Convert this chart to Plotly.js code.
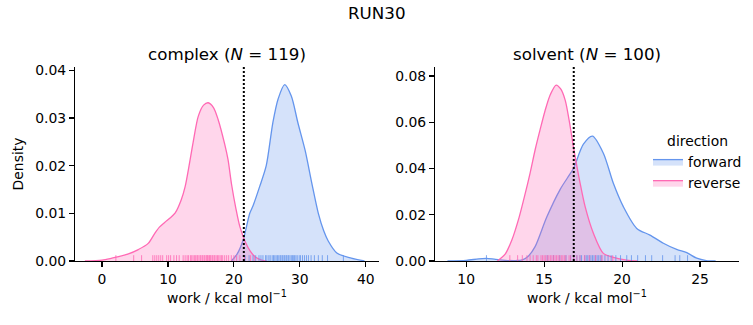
<!DOCTYPE html>
<html>
<head>
<meta charset="utf-8">
<script src="https://cdn.plot.ly/plotly-3.0.1.min.js"></script>
<style>html,body{margin:0;padding:0;background:#fff;}#chart{width:753px;height:325px;}</style>
</head>
<body>
<div id="chart"></div>
<script>
// ---------- data ----------
const directions = ["forward", "reverse"];

// complex: KDE curves
const complexForwardX = [19.6, 20.5, 21.4, 22.4, 22.9, 23.9, 24.9, 25.9, 26.7, 27.7, 28.7, 29.7, 30.8, 31.8, 32.8, 33.6, 34.3, 35.6, 37.8, 39.8];
const complexForwardY = [0, 0.0015, 0.0044, 0.0100, 0.0116, 0.0156, 0.0200, 0.0290, 0.0340, 0.0370, 0.0346, 0.0290, 0.0232, 0.0164, 0.0100, 0.0064, 0.0042, 0.0017, 0.0006, 0];
const complexReverseX = [-2.6, 0, 1.5, 2.5, 4, 5.5, 7.0, 8.0, 8.7, 9.5, 10.3, 11.1, 12.0, 12.6, 13.2, 13.8, 14.6, 15.4, 16.1, 16.9, 17.6, 18.6, 19.1, 19.65, 20.3, 20.9, 21.7, 22.5, 23.2, 24.2, 25];
const complexReverseY = [0, 0.0002, 0.0006, 0.0009, 0.0015, 0.0024, 0.0037, 0.0058, 0.0071, 0.0081, 0.0090, 0.0101, 0.0128, 0.0156, 0.0200, 0.0248, 0.0304, 0.0327, 0.0332, 0.0322, 0.0297, 0.0245, 0.0213, 0.0160, 0.0110, 0.0072, 0.0041, 0.0020, 0.0009, 0.0002, 0];

// solvent: KDE curves
const solventForwardX = [8.8, 10.0, 10.8, 11.3, 11.8, 12.5, 13.2, 13.6, 14.0, 14.42, 15.17, 16.03, 16.5, 16.88, 17.52, 18.1, 18.8, 19.44, 20.08, 20.94, 21.79, 22.65, 23.5, 24.15, 24.79, 25.4, 26.0];
const solventForwardY = [0, 0.0003, 0.0009, 0.0011, 0.0008, 0.0003, 0.0002, 0.0005, 0.0022, 0.0062, 0.0190, 0.0310, 0.0360, 0.0400, 0.0505, 0.0540, 0.0466, 0.0336, 0.0235, 0.0141, 0.0112, 0.0077, 0.0050, 0.0036, 0.0012, 0.0002, 0];
const solventReverseX = [12.0, 12.5, 12.93, 13.4, 13.78, 14.1, 14.42, 14.75, 15.06, 15.4, 15.77, 16.05, 16.35, 16.6, 16.88, 17.31, 17.63, 18.16, 18.8, 19.44, 20.3, 21.0];
const solventReverseY = [0, 0.0030, 0.0091, 0.0190, 0.0290, 0.0380, 0.0480, 0.0570, 0.0650, 0.0720, 0.0761, 0.0745, 0.0696, 0.0610, 0.0494, 0.0336, 0.0235, 0.0120, 0.0033, 0.0016, 0.0004, 0];

// rug samples (work values)
const complexForwardWork = [21.7, 22.3, 22.9, 23.3, 23.8, 24.1, 24.4, 24.8, 25.0, 25.3, 25.5, 25.8, 26.0, 26.2, 26.4, 26.6, 26.8, 27.0, 27.1, 27.3, 27.4, 27.6, 27.7, 27.9, 28.0, 28.2, 28.3, 28.5, 28.7, 28.9, 29.0, 29.2, 29.4, 29.6, 29.9, 30.1, 30.4, 30.7, 31.0, 31.3, 31.7, 32.2, 32.8, 33.4, 34.2, 36.6];
const complexReverseWork = [2.1, 4.8, 6.0, 7.7, 8.0, 8.3, 8.6, 8.9, 9.2, 9.8, 10.1, 10.4, 10.9, 11.3, 11.7, 12.3, 12.6, 12.9, 13.1, 13.4, 13.6, 13.8, 14.0, 14.2, 14.4, 14.5, 14.7, 14.9, 15.0, 15.2, 15.3, 15.5, 15.6, 15.8, 15.9, 16.0, 16.1, 16.3, 16.4, 16.5, 16.7, 16.8, 17.0, 17.1, 17.3, 17.5, 17.7, 17.9, 18.1, 18.3, 18.6, 18.9, 19.2, 19.6, 20.0, 20.4, 20.9, 21.6, 22.5, 23.1];
const solventForwardWork = [11.3, 15.2, 15.6, 16.0, 16.4, 16.7, 16.9, 17.1, 17.3, 17.4, 17.6, 17.7, 17.8, 17.9, 18.0, 18.1, 18.2, 18.3, 18.4, 18.5, 18.6, 18.7, 18.9, 19.1, 19.3, 19.6, 19.9, 20.3, 20.6, 21.0, 21.5, 21.9, 22.6, 23.4, 23.7, 24.2];
const solventReverseWork = [12.8, 13.3, 13.6, 13.9, 14.1, 14.3, 14.5, 14.6, 14.8, 14.9, 15.0, 15.1, 15.2, 15.3, 15.4, 15.5, 15.6, 15.7, 15.8, 15.9, 16.0, 16.1, 16.2, 16.3, 16.4, 16.6, 16.7, 16.9, 17.1, 17.3, 17.6, 17.9, 18.3, 18.7, 19.4];

// dotted reference lines
const complexMarker = 21.5;
const solventMarker = 16.9;

// axis ticks
const complexXTicks = [0, 10, 20, 30, 40];
const complexYTicks = [0, 0.01, 0.02, 0.03, 0.04];
const solventXTicks = [10, 15, 20, 25];
const solventYTicks = [0, 0.02, 0.04, 0.06, 0.08];

// ---------- styles ----------
const FONT = "DejaVu Sans";
const FS = 13.9;
const colors = { forward: "#6495ED", reverse: "#FF69B4" };
const fills = { forward: "rgba(100,149,237,0.27)", reverse: "rgba(255,105,180,0.27)" };
const complexYRange = [0, 0.0407];
const solventYRange = [0, 0.0839];
const rugFrac = 0.03;

function rug(vals, h) {
  const x = [], y = [];
  vals.forEach(v => { x.push(v, v, null); y.push(0, h, null); });
  return { x, y };
}

function kde(x, y, dir, xa, ya, showlegend) {
  return {
    type: "scatter", mode: "lines", x: x, y: y, xaxis: xa, yaxis: ya,
    name: dir, legendgroup: dir, showlegend: showlegend,
    line: { color: colors[dir], width: 1.3, shape: "spline", smoothing: 0.8 },
    fill: "tozeroy", fillcolor: fills[dir], hoverinfo: "skip"
  };
}
function rugTrace(vals, h, dir, xa, ya) {
  const r = rug(vals, h);
  return {
    type: "scatter", mode: "lines", x: r.x, y: r.y, xaxis: xa, yaxis: ya,
    showlegend: false, line: { color: colors[dir], width: 1 }, opacity: 0.8, hoverinfo: "skip"
  };
}

const traces = [
  kde(complexForwardX, complexForwardY, "forward", "x", "y", false),
  kde(complexReverseX, complexReverseY, "reverse", "x", "y", false),
  rugTrace(complexForwardWork, complexYRange[1] * rugFrac, "forward", "x", "y"),
  rugTrace(complexReverseWork, complexYRange[1] * rugFrac, "reverse", "x", "y"),
  kde(solventForwardX, solventForwardY, "forward", "x2", "y2", true),
  kde(solventReverseX, solventReverseY, "reverse", "x2", "y2", true),
  rugTrace(solventForwardWork, solventYRange[1] * rugFrac, "forward", "x2", "y2"),
  rugTrace(solventReverseWork, solventYRange[1] * rugFrac, "reverse", "x2", "y2")
];

const axBase = {
  showgrid: false, zeroline: false, showline: true, linecolor: "black", linewidth: 1.1,
  ticks: "outside", ticklen: 4.9, tickwidth: 1.1, tickcolor: "black",
  tickfont: { family: FONT, size: FS, color: "black" }, automargin: false
};
const xTitle = { text: "work / kcal mol<sup>−1</sup>", font: { family: FONT, size: FS, color: "black" }, standoff: 7 };

const layout = {
  width: 753, height: 325,
  margin: { l: 0, r: 0, t: 0, b: 0 },
  paper_bgcolor: "white", plot_bgcolor: "white",
  font: { family: FONT, size: FS, color: "black" },
  xaxis: Object.assign({}, axBase, { domain: [75 / 753, 379 / 753], range: [-4.1, 42], tickvals: complexXTicks, anchor: "y", title: xTitle }),
  yaxis: Object.assign({}, axBase, { domain: [64 / 325, 258 / 325], range: complexYRange, tickvals: complexYTicks, tickformat: ".2f", anchor: "x",
    title: { text: "Density", font: { family: FONT, size: FS, color: "black" }, standoff: 8 } }),
  xaxis2: Object.assign({}, axBase, { domain: [435 / 753, 739 / 753], range: [8.0, 27.5], tickvals: solventXTicks, anchor: "y2", title: xTitle }),
  yaxis2: Object.assign({}, axBase, { domain: [64 / 325, 258 / 325], range: solventYRange, tickvals: solventYTicks, tickformat: ".2f", anchor: "x2" }),
  shapes: [
    { type: "line", xref: "x", yref: "y domain", x0: complexMarker, x1: complexMarker, y0: 0, y1: 1, line: { color: "black", width: 2, dash: "2px,2px" } },
    { type: "line", xref: "x2", yref: "y2 domain", x0: solventMarker, x1: solventMarker, y0: 0, y1: 1, line: { color: "black", width: 2, dash: "2px,2px" } }
  ],
  annotations: [
    { text: "RUN30", xref: "paper", yref: "paper", x: 0.5, y: 1 - 13 / 325, xanchor: "center", yanchor: "middle", showarrow: false, font: { family: FONT, size: 16.7, color: "black" } },
    { text: "complex (<i>N</i> = 119)", xref: "x domain", yref: "paper", x: 0.5, y: 1 - 54 / 325, xanchor: "center", yanchor: "middle", showarrow: false, font: { family: FONT, size: 16.7, color: "black" } },
    { text: "solvent (<i>N</i> = 100)", xref: "x2 domain", yref: "paper", x: 0.5, y: 1 - 54 / 325, xanchor: "center", yanchor: "middle", showarrow: false, font: { family: FONT, size: 16.7, color: "black" } }
  ],
  legend: {
    x: 648 / 753, y: 1 - 128 / 325, xanchor: "left", yanchor: "top",
    bgcolor: "rgba(0,0,0,0)", font: { family: FONT, size: FS, color: "black" },
    title: { text: "direction", side: "top center", font: { family: FONT, size: FS, color: "black" } },
    traceorder: "normal", itemwidth: 30
  },
  showlegend: true
};

Plotly.newPlot("chart", traces, layout, { staticPlot: true, displayModeBar: false });
</script>
</body>
</html>
